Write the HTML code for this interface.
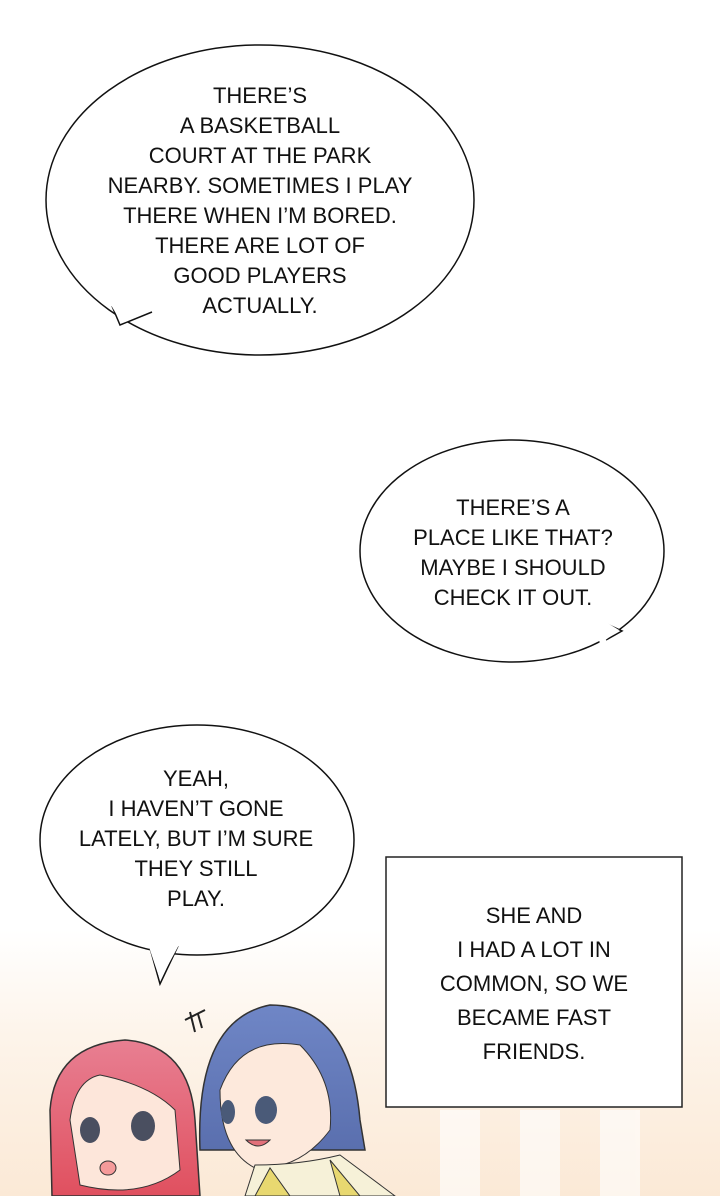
<!DOCTYPE html>
<html><head><meta charset="utf-8"><style>
html,body{margin:0;padding:0;background:#fff;}
svg{display:block;}
text{font-family:"Liberation Sans Narrow","Liberation Sans",sans-serif;font-size:22px;fill:#111;text-anchor:middle;}
</style></head><body>
<svg width="720" height="1196" viewBox="0 0 720 1196" xmlns="http://www.w3.org/2000/svg">
<defs>
<linearGradient id="bg" x1="0" y1="0" x2="0" y2="1">
<stop offset="0" stop-color="#fff"/><stop offset="0.4" stop-color="#fdf4ea"/><stop offset="1" stop-color="#fbe9d6"/>
</linearGradient>
<linearGradient id="ph" x1="0" y1="0" x2="0" y2="1"><stop offset="0" stop-color="#e87f92"/><stop offset="1" stop-color="#e0505f"/></linearGradient>
<linearGradient id="bh" x1="0" y1="0" x2="0" y2="1"><stop offset="0" stop-color="#6f86c6"/><stop offset="1" stop-color="#5a6fae"/></linearGradient>
</defs>
<rect x="0" y="930" width="720" height="266" fill="url(#bg)"/>
<g fill="#fff" opacity="0.6"><rect x="440" y="1110" width="40" height="86"/><rect x="520" y="1110" width="40" height="86"/><rect x="600" y="1110" width="40" height="86"/></g>

<!-- Bubble 1 -->
<ellipse cx="260" cy="200" rx="214" ry="155" fill="#fff" stroke="#111" stroke-width="1.5"/>
<path d="M112,306 L120,325 L152,312" fill="#fff" stroke="#111" stroke-width="1.5"/>
<path d="M108,300 L121,322 L156,308 Z" fill="#fff"/>
<text x="260" y="103">THERE’S</text>
<text x="260" y="133">A BASKETBALL</text>
<text x="260" y="163">COURT AT THE PARK</text>
<text x="260" y="193">NEARBY. SOMETIMES I PLAY</text>
<text x="260" y="223">THERE WHEN I’M BORED.</text>
<text x="260" y="253">THERE ARE LOT OF</text>
<text x="260" y="283">GOOD PLAYERS</text>
<text x="260" y="313">ACTUALLY.</text>

<!-- Bubble 2 -->
<ellipse cx="512" cy="551" rx="152" ry="111" fill="#fff" stroke="#111" stroke-width="1.5"/>
<path d="M598,620 L622,631 L606,640" fill="#fff" stroke="#111" stroke-width="1.5"/>
<path d="M594,615 L619,630 L600,644 Z" fill="#fff"/>
<text x="513" y="515">THERE’S A</text>
<text x="513" y="545">PLACE LIKE THAT?</text>
<text x="513" y="575">MAYBE I SHOULD</text>
<text x="513" y="605">CHECK IT OUT.</text>

<!-- Bubble 3 -->
<ellipse cx="197" cy="840" rx="157" ry="115" fill="#fff" stroke="#111" stroke-width="1.5"/>
<path d="M150,948 L160,984 L178,946" fill="#fff" stroke="#111" stroke-width="1.5"/>
<path d="M148,944 L160,980 L180,943 Z" fill="#fff"/>
<text x="196" y="786">YEAH,</text>
<text x="196" y="816">I HAVEN’T GONE</text>
<text x="196" y="846">LATELY, BUT I’M SURE</text>
<text x="196" y="876">THEY STILL</text>
<text x="196" y="906">PLAY.</text>

<!-- Box -->
<rect x="386" y="857" width="296" height="250" fill="#fff" stroke="#222" stroke-width="1.5"/>
<text x="534" y="923">SHE AND</text>
<text x="534" y="957">I HAD A LOT IN</text>
<text x="534" y="991">COMMON, SO WE</text>
<text x="534" y="1025">BECAME FAST</text>
<text x="534" y="1059">FRIENDS.</text>

<!-- sweat mark -->
<path d="M185,1020 L205,1010 M190,1012 L195,1032 M198,1014 L202,1028" stroke="#222" stroke-width="2" fill="none"/>

<!-- Pink girl -->
<path d="M52,1196 L50,1110 Q55,1045 125,1040 Q190,1045 195,1120 L200,1196 Z" fill="url(#ph)" stroke="#333" stroke-width="1.5"/>
<path d="M70,1120 Q75,1080 100,1075 Q150,1085 175,1110 L180,1170 Q140,1200 80,1185 Z" fill="#fde6da" stroke="#333" stroke-width="1"/>
<ellipse cx="90" cy="1130" rx="10" ry="13" fill="#4a4f60"/><ellipse cx="143" cy="1126" rx="12" ry="15" fill="#4a4f60"/>
<ellipse cx="108" cy="1168" rx="8" ry="7" fill="#f59a9a" stroke="#333"/>

<!-- Blue girl -->
<path d="M200,1150 Q195,1020 270,1005 Q350,1005 360,1120 L365,1150 Z" fill="url(#bh)" stroke="#333" stroke-width="1.5"/>
<path d="M220,1090 Q240,1035 300,1045 Q335,1080 330,1130 Q300,1170 255,1168 Q220,1150 220,1090 Z" fill="#fde9dc" stroke="#333" stroke-width="1"/>
<ellipse cx="228" cy="1112" rx="7" ry="12" fill="#4a5a78"/><ellipse cx="266" cy="1110" rx="11" ry="14" fill="#4a5a78"/>
<path d="M246,1140 Q258,1152 270,1140 Z" fill="#e2707a" stroke="#333"/>
<path d="M245,1196 L255,1165 Q300,1165 340,1155 L395,1196 Z" fill="#f6f1d8" stroke="#333"/>
<path d="M255,1196 L270,1168 L290,1196 Z M330,1160 L360,1196 L340,1196 Z" fill="#e8d870" stroke="#333"/>
</svg>
</body></html>
